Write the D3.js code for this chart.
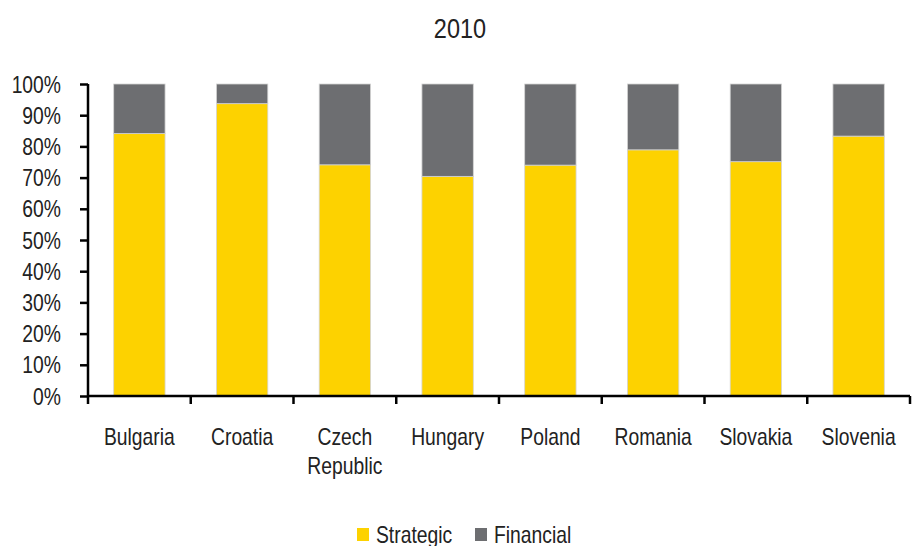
<!DOCTYPE html>
<html>
<head>
<meta charset="utf-8">
<script src="https://cdn.jsdelivr.net/npm/d3@7"></script>
<style>
  html, body { margin: 0; padding: 0; background: #fff; }
  svg text { font-family: "Liberation Sans", Arial, sans-serif; fill: #222; }
</style>
</head>
<body>
<svg id="chart" width="921" height="546"></svg>
<script>
// Share of strategic vs financial investors by country, 2010
const countries = ["Bulgaria", "Croatia", "Czech Republic", "Hungary", "Poland", "Romania", "Slovakia", "Slovenia"];
const strategic = [84.1, 93.7, 74.1, 70.4, 74.0, 78.9, 75.1, 83.3];
const financial = strategic.map(v => 100 - v);
const seriesNames = ["Strategic", "Financial"];
const seriesColors = ["#FDD200", "#6D6E71"];
const yTicks = [0, 10, 20, 30, 40, 50, 60, 70, 80, 90, 100];
const title = "2010";

const svg = d3.select("#chart");
const margin = { left: 88, right: 11 };
const W = 921;
const plotBottom = 396, plotTop = 84;
const NARROW = 0.84; // condensed lettering

// place a text element at (px,py) with condensed horizontal scale
function narrow(sel, px, py) {
  sel.attr("x", 0).attr("y", 0)
    .attr("transform", `translate(${px},${py}) scale(${NARROW},1)`);
}

const x = d3.scaleBand().domain(countries).range([margin.left, W - margin.right]).paddingInner(0.5).paddingOuter(0.25);
const y = d3.scaleLinear().domain([0, 100]).range([plotBottom, plotTop]);

// Title
svg.append("text").attr("text-anchor", "middle").style("font-size", "28px").text(title)
  .call(narrow, 460, 38);

// Stacked bars
const rows = countries.map((c, i) => ({ country: c, Strategic: strategic[i], Financial: financial[i] }));
const stack = d3.stack().keys(seriesNames)(rows);
const colorOf = d3.scaleOrdinal().domain(seriesNames).range(seriesColors);

svg.append("g").selectAll("g").data(stack).join("g")
  .attr("fill", d => colorOf(d.key))
  .selectAll("rect").data(d => d).join("rect")
  .attr("x", d => x(d.data.country))
  .attr("width", x.bandwidth())
  .attr("y", d => y(d[1]))
  .attr("height", d => y(d[0]) - y(d[1]))
  .attr("stroke", "#d4d4d4")
  .attr("stroke-width", 0.8);

// Y axis
const yAxis = d3.axisLeft(y).tickValues(yTicks).tickFormat(d => d + "%").tickSize(8);
const gy = svg.append("g").attr("transform", `translate(${margin.left},0)`).call(yAxis);
gy.select(".domain").attr("stroke", "#000").attr("stroke-width", 2.5).attr("d", `M0,${plotTop}V${plotBottom}`);
gy.selectAll(".tick line").attr("stroke", "#000").attr("stroke-width", 2.5);
gy.selectAll(".tick text").style("font-size", "23px").attr("fill", "#222").attr("dy", null)
  .each(function() { d3.select(this).call(narrow, -27, 8); });

// X axis: line with ticks at category boundaries
const step = x.step();
const boundaries = d3.range(countries.length + 1).map(i => margin.left + i * step);
const gx = svg.append("g");
gx.append("line").attr("x1", margin.left - 1).attr("x2", W - margin.right)
  .attr("y1", plotBottom).attr("y2", plotBottom).attr("stroke", "#000").attr("stroke-width", 2.5);
gx.selectAll("line.tk").data(boundaries).join("line").attr("class", "tk")
  .attr("x1", d => d).attr("x2", d => d).attr("y1", plotBottom).attr("y2", plotBottom + 8)
  .attr("stroke", "#000").attr("stroke-width", 2.5);

// Category labels (wrapped onto two lines where needed)
const lbl = gx.selectAll("text.cat").data(countries).join("text").attr("class", "cat")
  .attr("text-anchor", "middle").style("font-size", "23px")
  .attr("transform", d => `translate(${x(d) + x.bandwidth() / 2},445) scale(${NARROW},1)`);
lbl.each(function(d) {
  const words = d.split(" ");
  const t = d3.select(this);
  words.forEach((w, i) => t.append("tspan").attr("x", 0).attr("y", i * 29).text(w));
});

// Legend
const legend = svg.append("g").attr("transform", "translate(357,528)");
const legendX = [0, 118];
seriesNames.forEach((s, i) => {
  const g = legend.append("g").attr("transform", `translate(${legendX[i]},0)`);
  g.append("rect").attr("width", 12).attr("height", 13).attr("fill", seriesColors[i]);
  g.append("text").style("font-size", "23px").text(s).call(narrow, 19, 14.5);
});
</script>
</body>
</html>
